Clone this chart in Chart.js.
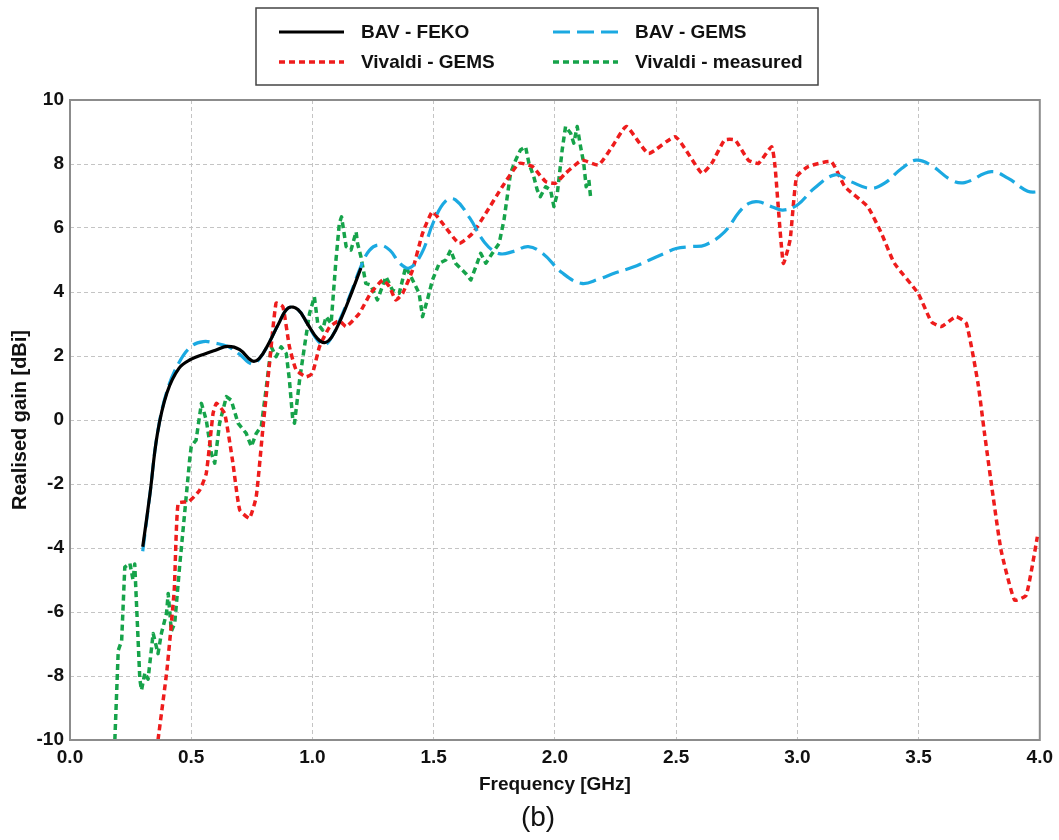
<!DOCTYPE html>
<html lang="en">
<head>
<meta charset="UTF-8">
<title>Realised gain vs frequency (b)</title>
<script src="https://cdn.jsdelivr.net/npm/chart.js"></script>
<style>
  html, body { margin: 0; padding: 0; background: #fff; }
  #wrap { width: 1059px; height: 840px; }
</style>
</head>
<body>
<div id="wrap"><canvas id="gainChart" width="1059" height="840"></canvas></div>
<script>
// values (frequency in GHz, gain in dBi)
const fekoFreq = [0.30, 0.33, 0.36, 0.40, 0.45, 0.50, 0.55, 0.60, 0.65, 0.70, 0.75, 0.78, 0.82, 0.86, 0.90, 0.94, 0.98, 1.02, 1.05, 1.08, 1.12, 1.16, 1.20];
const fekoGain = [-3.96, -2.3, -0.45, 0.85, 1.62, 1.9, 2.05, 2.18, 2.3, 2.2, 1.85, 1.92, 2.4, 3.0, 3.5, 3.45, 3.0, 2.55, 2.42, 2.6, 3.2, 3.95, 4.75];

const bavGemsFreq = [0.30, 0.33, 0.36, 0.40, 0.45, 0.50, 0.55, 0.60, 0.65, 0.70, 0.75, 0.78, 0.82, 0.86, 0.90, 0.94, 0.98, 1.02, 1.05, 1.08, 1.12, 1.16, 1.20,
  1.235, 1.275, 1.32, 1.36, 1.40, 1.45, 1.50, 1.55, 1.59, 1.65, 1.71, 1.77, 1.83, 1.89, 1.95, 2.03, 2.11, 2.18, 2.25, 2.32, 2.39, 2.45, 2.50, 2.56, 2.62,
  2.70, 2.76, 2.80, 2.84, 2.90, 2.94, 3.00, 3.07, 3.155, 3.22, 3.30, 3.36, 3.43, 3.49, 3.55, 3.635, 3.69, 3.80, 3.87, 3.95, 4.00];
const bavGemsGain = [-4.1, -2.3, -0.45, 0.9, 1.8, 2.3, 2.45, 2.4, 2.3, 2.05, 1.75, 1.9, 2.4, 3.0, 3.5, 3.45, 3.0, 2.5, 2.35, 2.6, 3.25, 4.0, 4.8,
  5.3, 5.47, 5.3, 4.9, 4.75, 5.2, 6.2, 6.85, 6.88, 6.3, 5.55, 5.2, 5.27, 5.42, 5.2, 4.6, 4.27, 4.4, 4.6, 4.77, 5.0, 5.2, 5.36, 5.42, 5.47,
  5.88, 6.5, 6.77, 6.82, 6.65, 6.56, 6.72, 7.24, 7.66, 7.45, 7.24, 7.4, 7.86, 8.12, 7.97, 7.5, 7.42, 7.76, 7.55, 7.15, 7.13];

const vivGemsFreq = [0.363, 0.40, 0.43, 0.446, 0.49, 0.535, 0.562, 0.59, 0.604, 0.638, 0.672, 0.70, 0.74, 0.768, 0.795, 0.823, 0.85, 0.878, 0.905, 0.933,
  0.974, 1.0, 1.029, 1.07, 1.11, 1.139, 1.193, 1.24, 1.29, 1.317, 1.344, 1.372, 1.413, 1.454, 1.495, 1.536, 1.605, 1.66, 1.715, 1.783, 1.852, 1.907,
  1.962, 2.003, 2.044, 2.112, 2.18, 2.236, 2.295, 2.386, 2.497, 2.606, 2.647, 2.70, 2.743, 2.798, 2.84, 2.894, 2.908, 2.942, 2.97, 2.997, 3.045, 3.14,
  3.196, 3.29, 3.347, 3.40, 3.498, 3.553, 3.594, 3.655, 3.697, 3.745, 3.772, 3.80, 3.84, 3.896, 3.944, 3.99];
const vivGemsGain = [-10, -7.8, -5.3, -2.6, -2.55, -2.19, -1.67, 0.2, 0.52, 0.2, -1.35, -2.81, -3.07, -2.4, -0.31, 1.77, 3.65, 3.54, 2.29, 1.56,
  1.35, 1.46, 2.29, 2.9, 3.1, 2.92, 3.33, 3.96, 4.375, 4.17, 3.75, 3.96, 4.69, 5.83, 6.51, 6.15, 5.52, 5.83, 6.46, 7.29, 8.02, 7.92,
  7.45, 7.4, 7.71, 8.12, 7.97, 8.54, 9.17, 8.33, 8.85, 7.71, 8.02, 8.75, 8.75, 8.12, 8.02, 8.54, 7.92, 4.9, 5.625, 7.6, 7.92, 8.07,
  7.29, 6.67, 5.83, 4.9, 3.96, 3.07, 2.92, 3.23, 3.02, 1.15, -0.42, -1.98, -4.06, -5.63, -5.47, -3.65];

const vivMeasFreq = [0.185, 0.199, 0.213, 0.226, 0.247, 0.26, 0.267, 0.288, 0.295, 0.309, 0.322, 0.343, 0.363, 0.377, 0.398, 0.405, 0.418, 0.432, 0.453,
  0.473, 0.494, 0.50, 0.52, 0.542, 0.562, 0.583, 0.597, 0.617, 0.645, 0.665, 0.693, 0.727, 0.748, 0.768, 0.789, 0.81, 0.83, 0.85, 0.871, 0.892, 0.905,
  0.919, 0.926, 0.947, 0.967, 0.988, 1.008, 1.022, 1.042, 1.056, 1.077, 1.097, 1.111, 1.12, 1.139, 1.159, 1.18, 1.186, 1.2, 1.22, 1.24, 1.268, 1.303,
  1.33, 1.358, 1.385, 1.413, 1.44, 1.454, 1.474, 1.495, 1.523, 1.55, 1.57, 1.59, 1.632, 1.653, 1.674, 1.694, 1.715, 1.742, 1.77, 1.79, 1.817, 1.838,
  1.858, 1.879, 1.893, 1.913, 1.927, 1.94, 1.962, 1.982, 1.996, 2.01, 2.03, 2.044, 2.065, 2.078, 2.092, 2.106, 2.119, 2.129, 2.14, 2.147];
const vivMeasGain = [-10, -7.2, -6.9, -4.6, -4.48, -5.0, -4.5, -8.1, -8.44, -7.9, -8.1, -6.67, -7.3, -6.67, -6.04, -5.42, -6.6, -6.35, -4.5,
  -2.9, -1.2, -0.83, -0.63, 0.52, 0.0, -1.04, -1.35, -0.1, 0.73, 0.62, -0.1, -0.42, -0.83, -0.42, -0.2, 1.04, 2.29, 1.98, 2.29, 2.08, 1.25,
  0.0, -0.1, 1.25, 2.29, 3.33, 3.85, 3.0, 2.81, 3.23, 3.02, 5.0, 6.15, 6.35, 5.42, 5.31, 5.88, 5.52, 5.1, 4.27, 4.22, 3.75, 4.48,
  4.06, 3.96, 4.79, 4.375, 3.96, 3.23, 3.75, 4.375, 4.9, 5.0, 5.31, 4.9, 4.58, 4.375, 4.79, 5.21, 4.9, 5.21, 5.52, 6.25, 7.71, 8.12,
  8.44, 8.54, 8.02, 7.6, 7.19, 6.98, 7.29, 7.19, 6.67, 7.08, 8.44, 9.17, 8.96, 8.65, 9.17, 8.54, 8.02, 7.29, 7.5, 6.98];

const seriesNames = ['BAV - FEKO', 'BAV - GEMS', 'Vivaldi - GEMS', 'Vivaldi - measured'];
const xTicks = [0, 0.5, 1, 1.5, 2, 2.5, 3, 3.5, 4];
const yTicks = [-10, -8, -6, -4, -2, 0, 2, 4, 6, 8, 10];

function pts(fs, gs) { return fs.map((f, i) => ({ x: f, y: gs[i] })); }

const FONT = '"Liberation Sans", Arial, sans-serif';

// frame around plot area + two-column boxed legend + caption
const extras = {
  id: 'extras',
  afterDraw(chart) {
    const { ctx, chartArea: a } = chart;
    ctx.save();
    ctx.strokeStyle = '#8c8c8c';
    ctx.lineWidth = 2;
    ctx.strokeRect(a.left, a.top, a.right - a.left, a.bottom - a.top);

    // legend box
    ctx.strokeStyle = '#444';
    ctx.lineWidth = 1.5;
    ctx.strokeRect(256, 8, 562, 77);
    const slots = [[279, 32], [553, 32], [279, 62], [553, 62]];
    chart.data.datasets.forEach((ds, i) => {
      const [x, y] = slots[i];
      ctx.beginPath();
      ctx.setLineDash(ds.borderDash || []);
      ctx.strokeStyle = ds.borderColor;
      ctx.lineWidth = ds.borderWidth;
      ctx.moveTo(x, y);
      ctx.lineTo(x + 65, y);
      ctx.stroke();
      ctx.setLineDash([]);
      ctx.fillStyle = '#111';
      ctx.font = 'bold 19px ' + FONT;
      ctx.textBaseline = 'middle';
      ctx.fillText(ds.label, x + 82, y + 1);
    });

    ctx.fillStyle = '#111';
    ctx.font = '28px ' + FONT;
    ctx.textAlign = 'center';
    ctx.textBaseline = 'middle';
    ctx.fillText('(b)', 538, 818);
    ctx.restore();
  }
};

new Chart(document.getElementById('gainChart'), {
  type: 'line',
  data: {
    datasets: [
      { label: seriesNames[0], data: pts(fekoFreq, fekoGain), borderColor: '#000000', borderWidth: 3.2, tension: 0.4, order: 0 },
      { label: seriesNames[1], data: pts(bavGemsFreq, bavGemsGain), borderColor: '#1ba9e1', borderWidth: 3.2, borderDash: [17, 7], tension: 0.4, order: 1 },
      { label: seriesNames[2], data: pts(vivGemsFreq, vivGemsGain), borderColor: '#ee1c1c', borderWidth: 3.5, borderDash: [6, 4], borderJoinStyle: 'round', tension: 0.15, order: 2 },
      { label: seriesNames[3], data: pts(vivMeasFreq, vivMeasGain), borderColor: '#16a34a', borderWidth: 3.5, borderDash: [6, 4], borderJoinStyle: 'round', tension: 0, order: 3 }
    ]
  },
  options: {
    responsive: false,
    animation: false,
    elements: { point: { radius: 0 } },
    layout: { padding: { top: 100, right: 17, bottom: 40, left: 0 } },
    plugins: { legend: { display: false }, tooltip: { enabled: false } },
    scales: {
      x: {
        type: 'linear', min: 0, max: 4,
        afterBuildTicks: s => { s.ticks = xTicks.map(v => ({ value: v })); },
        afterFit: s => { s.height = 60; },
        ticks: { color: '#111', padding: 6, font: { family: FONT, size: 19, weight: 'bold' }, callback: v => v.toFixed(1) },
        grid: { color: '#c4c4c4', lineWidth: 1, drawTicks: false },
        border: { display: false, dash: [4, 3] },
        title: { display: true, text: 'Frequency [GHz]', color: '#111', padding: { top: 6 }, font: { family: FONT, size: 19, weight: 'bold' } }
      },
      y: {
        type: 'linear', min: -10, max: 10,
        afterBuildTicks: s => { s.ticks = yTicks.map(v => ({ value: v })); },
        afterFit: s => { s.width = 70; },
        ticks: { color: '#111', padding: 6, font: { family: FONT, size: 19, weight: 'bold' } },
        grid: { color: '#c4c4c4', lineWidth: 1, drawTicks: false },
        border: { display: false, dash: [4, 3] },
        title: { display: true, text: 'Realised gain [dBi]', color: '#111', padding: { top: 8, bottom: 2 }, font: { family: FONT, size: 20, weight: 'bold' } }
      }
    }
  },
  plugins: [extras]
});
</script>
</body>
</html>
